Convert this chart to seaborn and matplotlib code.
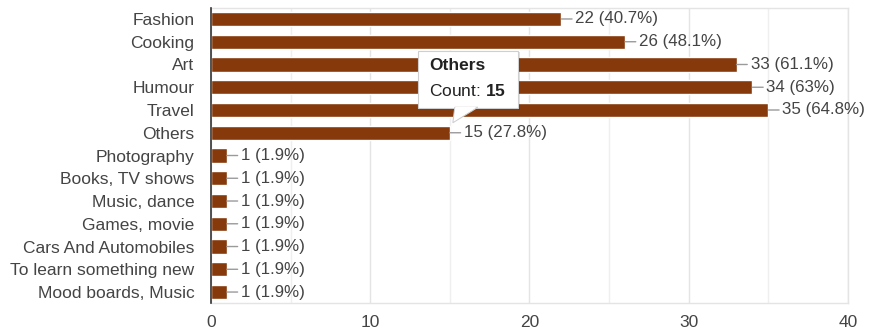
import matplotlib
matplotlib.use("Agg")
import matplotlib.pyplot as plt
import matplotlib.transforms as mtransforms
from matplotlib.patches import Polygon, Rectangle
from matplotlib.ticker import MultipleLocator
import seaborn as sns
import pandas as pd

categories = ["Fashion", "Cooking", "Art", "Humour", "Travel", "Others",
              "Photography", "Books, TV shows", "Music, dance", "Games, movie",
              "Cars And Automobiles", "To learn something new", "Mood boards, Music"]
counts = [22, 26, 33, 34, 35, 15, 1, 1, 1, 1, 1, 1, 1]
percents = ["40.7%", "48.1%", "61.1%", "63%", "64.8%", "27.8%",
            "1.9%", "1.9%", "1.9%", "1.9%", "1.9%", "1.9%", "1.9%"]
x_ticks = [0, 10, 20, 30, 40]
tooltip_category = "Others"

sns.set_theme(style="white")
plt.rcParams["font.family"] = ["Liberation Sans", "DejaVu Sans"]
plt.rcParams["mathtext.fontset"] = "custom"
plt.rcParams["mathtext.rm"] = "Liberation Sans"
plt.rcParams["mathtext.bf"] = "Liberation Sans:bold"

BAR = "#863a0c"
TXT = "#444444"

df = pd.DataFrame({"category": categories, "count": counts})

fig = plt.figure(figsize=(8.7, 3.32), dpi=100)
ax = fig.add_axes([0.2425, 0.0861, 0.7322, 0.891])

sns.barplot(data=df, x="count", y="category", orient="h", color=BAR,
            saturation=1, width=0.62, ax=ax, zorder=3)

ax.set_xlim(0, 40)
ax.set_ylim(len(categories) - 0.5, -0.5)
ax.set_xticks(x_ticks)
ax.xaxis.set_minor_locator(MultipleLocator(5))
ax.grid(True, which="major", axis="x", color="#e4e4e4", linewidth=1, zorder=0)
ax.grid(True, which="minor", axis="x", color="#efefef", linewidth=1, zorder=0)
ax.set_axisbelow(True)
ax.set_xlabel("")
ax.set_ylabel("")
ax.tick_params(axis="both", which="both", length=0, labelsize=12.5, labelcolor=TXT)
ax.tick_params(axis="y", pad=12)
ax.tick_params(axis="x", pad=8)
for s in ["top", "right", "bottom"]:
    ax.spines[s].set_color("#e4e4e4")
    ax.spines[s].set_linewidth(1)
ax.spines["left"].set_color("#333333")
ax.spines["left"].set_linewidth(1.2)
ax.spines["left"].set_zorder(5)

for i, (c, p) in enumerate(zip(counts, percents)):
    ax.annotate(f"{c} ({p})", xy=(c, i), xytext=(14, 0), textcoords="offset pixels",
                ha="left", va="center", fontsize=12.2, color=TXT, zorder=6,
                arrowprops=dict(arrowstyle="-", color="#9a9a9a", lw=1,
                                shrinkA=0, shrinkB=0))

# Tooltip
ti = categories.index(tooltip_category)
tv = counts[ti]
trans = fig.dpi_scale_trans + mtransforms.ScaledTranslation(tv, ti, ax.transData)
shadow = Rectangle((-0.30, 0.23), 1.00, 0.58, transform=trans, facecolor="#000000",
                   alpha=0.12, edgecolor="none", zorder=7, clip_on=False)
ax.add_patch(shadow)
box = Rectangle((-0.32, 0.25), 1.00, 0.57, transform=trans, facecolor="white",
                edgecolor="#cfcfcf", linewidth=0.8, zorder=8, clip_on=False)
ax.add_patch(box)
tail = Polygon([(0.05, 0.255), (0.28, 0.255), (0.03, 0.10)], closed=True,
               transform=trans, facecolor="white", edgecolor="#cfcfcf",
               linewidth=0.8, zorder=9, clip_on=False)
ax.add_patch(tail)
tail_cover = Polygon([(0.055, 0.26), (0.27, 0.26), (0.04, 0.115)], closed=True,
                     transform=trans, facecolor="white", edgecolor="none",
                     zorder=10, clip_on=False)
ax.add_patch(tail_cover)
ax.annotate(tooltip_category, xy=(tv, ti), xytext=(-21, 67), textcoords="offset pixels",
            ha="left", va="center", fontsize=12.5, fontweight="bold", color="#222222",
            zorder=11)
ax.annotate("Count: $\\bf{" + str(tv) + "}$", xy=(tv, ti), xytext=(-21, 42),
            textcoords="offset pixels", ha="left", va="center", fontsize=12.5,
            color="#222222", zorder=11)

fig.savefig("out.png", dpi=100)
